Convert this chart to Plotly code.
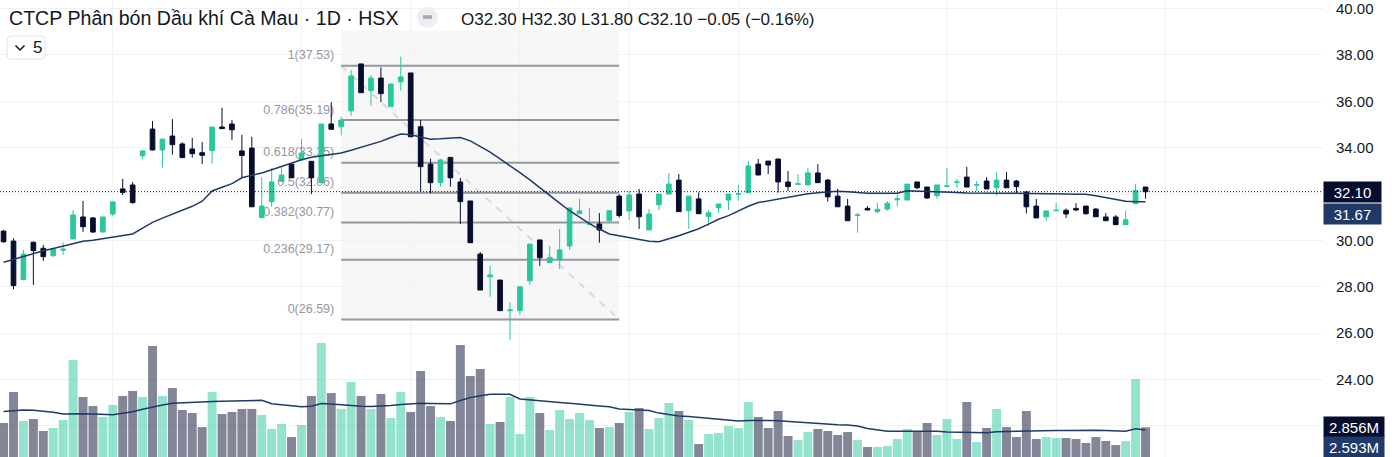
import plotly.graph_objects as go

# ---------------- data ----------------
open_ = [30.40, 29.97, 28.31, 29.92, 29.66, 29.34, 29.58, 30.06, 31.01, 30.97,
         30.36, 31.14, 32.22, 32.39, 33.65, 34.80, 33.90, 34.50, 34.16, 33.94,
         33.78, 33.87, 34.89, 35.02, 33.86, 33.98, 30.98, 31.67, 32.55, 33.29,
         33.47, 33.41, 32.49, 35.02, 34.90, 35.59, 37.61, 36.46, 37.00, 35.77,
         36.84, 37.22, 34.90, 33.29, 32.49, 33.58, 32.52, 31.70, 29.41, 28.43,
         28.29, 26.97, 26.97, 28.26, 30.02, 29.04, 29.16, 29.76, 31.15, 30.70,
         30.71, 30.85, 31.91, 31.27, 32.00, 30.45, 31.54, 32.00, 32.60, 31.28,
         31.79, 31.02, 31.41, 31.74, 31.99, 32.06, 33.29, 33.42, 33.51, 32.52,
         32.42, 32.39, 32.91, 32.60, 31.91, 31.48, 31.08, 31.38, 31.24, 31.35,
         31.75, 31.74, 32.52, 32.30, 31.93, 32.33, 32.50, 32.73, 32.38, 32.56,
         32.27, 32.60, 32.56, 32.09, 31.48, 31.02, 31.28, 31.30, 31.38, 31.48,
         31.35, 31.01, 31.01, 30.68, 31.58, 32.30]
high = [30.45, 30.09, 29.59, 29.95, 29.80, 29.63, 29.92, 31.31, 31.70, 31.01,
        31.01, 31.70, 32.65, 32.52, 33.86, 35.15, 34.37, 35.23, 34.23, 34.42,
        34.24, 34.89, 35.72, 35.19, 34.55, 34.47, 32.72, 33.12, 33.15, 33.29,
        34.37, 33.41, 35.02, 35.96, 35.33, 37.35, 37.61, 37.13, 37.46, 36.78,
        37.92, 37.22, 35.19, 33.52, 33.52, 33.58, 32.69, 31.70, 29.50, 28.90,
        28.29, 27.34, 28.00, 29.84, 30.02, 29.76, 30.49, 31.40, 31.79, 31.40,
        31.18, 31.30, 31.99, 32.13, 32.22, 31.35, 32.00, 32.91, 32.86, 31.91,
        32.07, 31.31, 31.57, 32.00, 32.39, 33.42, 33.51, 33.42, 33.51, 32.99,
        32.86, 33.12, 33.29, 32.65, 32.22, 31.79, 31.19, 31.48, 31.63, 31.70,
        31.96, 32.43, 32.52, 32.30, 32.39, 33.12, 32.65, 33.17, 32.56, 32.73,
        32.95, 32.95, 32.60, 32.12, 31.79, 31.27, 31.61, 31.38, 31.61, 31.48,
        31.40, 31.18, 31.09, 31.28, 32.43, 32.30]
low = [29.90, 27.90, 28.28, 28.08, 29.12, 29.30, 29.38, 30.06, 30.37, 30.33,
       30.36, 31.05, 31.96, 31.58, 33.51, 33.88, 33.14, 33.70, 33.57, 33.57,
       33.29, 33.31, 34.80, 34.33, 32.68, 31.45, 30.98, 31.45, 32.55, 32.70,
       33.45, 32.00, 32.49, 34.79, 34.53, 35.38, 36.37, 35.81, 35.96, 35.77,
       36.46, 34.47, 32.09, 32.03, 32.32, 32.32, 30.71, 29.90, 27.86, 27.57,
       26.97, 25.71, 26.78, 28.08, 28.90, 29.04, 28.77, 29.59, 31.15, 30.69,
       29.90, 30.74, 30.98, 30.88, 30.49, 30.45, 31.31, 32.00, 31.24, 30.49,
       31.15, 30.63, 31.19, 31.31, 31.71, 32.06, 32.82, 32.86, 32.06, 32.13,
       32.42, 32.39, 32.49, 31.67, 31.45, 30.85, 30.33, 31.31, 31.17, 31.28,
       31.48, 31.74, 32.22, 31.79, 31.79, 32.33, 32.27, 32.30, 32.13, 32.22,
       31.93, 32.27, 32.00, 31.17, 30.97, 30.85, 31.28, 30.97, 31.28, 31.11,
       31.02, 30.85, 30.68, 30.68, 31.58, 31.80]
close = [29.94, 28.05, 29.41, 29.56, 29.30, 29.63, 29.62, 31.10, 30.59, 30.36,
         31.01, 31.66, 32.07, 31.63, 33.86, 33.90, 34.37, 34.13, 33.57, 33.74,
         33.67, 34.89, 34.82, 34.77, 33.66, 31.45, 31.48, 32.52, 32.82, 32.70,
         33.77, 32.70, 35.02, 34.79, 35.19, 37.09, 36.37, 37.00, 36.33, 36.74,
         37.05, 34.47, 33.18, 32.49, 33.47, 32.70, 31.67, 29.90, 27.86, 28.51,
         26.97, 27.00, 28.00, 29.84, 29.25, 29.25, 29.59, 31.40, 31.27, 30.71,
         30.45, 31.28, 31.07, 31.96, 31.02, 31.14, 32.00, 32.43, 31.24, 31.91,
         31.15, 31.19, 31.57, 32.00, 32.01, 33.21, 32.82, 33.25, 32.52, 32.32,
         32.44, 32.91, 32.49, 31.88, 31.45, 30.85, 31.10, 31.31, 31.34, 31.60,
         31.79, 32.43, 32.27, 31.83, 32.39, 32.35, 32.52, 32.30, 32.40, 32.22,
         32.60, 32.27, 32.32, 31.45, 30.97, 31.27, 31.30, 31.14, 31.31, 31.15,
         31.02, 30.85, 30.68, 30.89, 32.15, 32.10]
volume_m = [3.27, 6.25, 3.46, 3.65, 2.50, 2.79, 3.56, 9.33, 5.77, 4.90,
            3.85, 5.00, 5.87, 6.35, 5.77, 10.67, 5.87, 6.63, 4.52, 4.23,
            2.88, 6.25, 4.13, 4.33, 4.62, 4.62, 4.04, 2.69, 3.17, 1.92,
            3.08, 5.87, 10.96, 6.15, 4.62, 7.21, 5.87, 4.62, 6.06, 3.75,
            6.25, 4.33, 8.27, 4.90, 3.85, 3.46, 10.77, 7.79, 8.46, 3.17,
            3.37, 5.77, 2.21, 5.77, 4.23, 2.60, 4.52, 3.65, 4.23, 3.56,
            2.79, 2.88, 3.27, 4.33, 4.71, 2.69, 3.75, 5.19, 4.42, 3.56,
            1.25, 2.21, 2.31, 2.98, 2.79, 5.29, 3.85, 2.79, 4.42, 2.02,
            1.63, 2.40, 2.69, 2.50, 2.12, 2.40, 1.63, 0.96, 0.96, 1.06,
            1.73, 2.69, 2.50, 3.27, 2.12, 3.65, 1.73, 5.29, 1.44, 2.79,
            4.62, 2.88, 1.92, 4.42, 1.73, 1.92, 1.83, 1.83, 1.73, 1.35,
            1.92, 1.54, 1.15, 1.54, 7.50, 2.856]
ma20 = [29.06, 29.19, 29.32, 29.45, 29.55, 29.65, 29.76, 29.87, 29.96, 30.01,
        30.07, 30.15, 30.21, 30.28, 30.53, 30.78, 30.96, 31.13, 31.30, 31.47,
        31.69, 32.13, 32.29, 32.45, 32.70, 32.80, 32.91, 33.05, 33.20, 33.35,
        33.48, 33.59, 33.65, 33.71, 33.77, 33.89, 34.01, 34.14, 34.27, 34.44,
        34.59, 34.56, 34.46, 34.36, 34.38, 34.41, 34.44, 34.29, 34.06, 33.81,
        33.52, 33.23, 32.92, 32.61, 32.29, 31.94, 31.61, 31.28, 30.99, 30.72,
        30.49, 30.28, 30.20, 30.12, 30.03, 29.96, 29.94, 30.06, 30.20, 30.35,
        30.50, 30.70, 30.91, 31.07, 31.28, 31.47, 31.63, 31.71, 31.79, 31.87,
        31.94, 32.01, 32.05, 32.09, 32.12, 32.10, 32.05, 32.03, 32.03, 32.03,
        32.03, 32.14, 32.13, 32.12, 32.10, 32.09, 32.07, 32.04, 32.03, 32.03,
        32.03, 32.03, 32.03, 32.03, 32.02, 32.01, 32.00, 32.00, 31.99, 31.99,
        31.93, 31.85, 31.76, 31.69, 31.67, 31.67]
vol_ma20 = [4.38, 4.46, 4.51, 4.49, 4.41, 4.30, 4.13, 4.18, 4.17, 4.13,
            4.10, 4.07, 4.21, 4.36, 4.60, 4.82, 4.99, 5.16, 5.22, 5.29,
            5.31, 5.34, 5.36, 5.38, 5.42, 5.47, 5.45, 5.13, 5.01, 4.91,
            4.84, 4.89, 5.15, 5.10, 5.02, 4.92, 4.88, 4.86, 4.88, 4.95,
            5.04, 5.13, 5.18, 5.15, 5.13, 5.11, 5.44, 5.71, 5.89, 6.03,
            6.03, 6.03, 5.58, 5.48, 5.38, 5.32, 5.24, 5.16, 5.10, 5.01,
            4.91, 4.84, 4.61, 4.57, 4.54, 4.47, 4.22, 4.05, 3.94, 3.89,
            3.80, 3.67, 3.62, 3.55, 3.47, 3.52, 3.54, 3.52, 3.48, 3.41,
            3.36, 3.30, 3.25, 3.17, 3.10, 3.08, 2.97, 2.75, 2.61, 2.47,
            2.48, 2.49, 2.50, 2.49, 2.47, 2.41, 2.38, 2.42, 2.36, 2.32,
            2.43, 2.46, 2.49, 2.51, 2.51, 2.52, 2.54, 2.56, 2.58, 2.60,
            2.57, 2.54, 2.47, 2.47, 2.72, 2.593]

price_ticks = [22, 24, 26, 28, 30, 32, 34, 36, 38, 40]
grid_x = [11, 30, 41, 52, 63, 74, 95, 106, 117]
fib_ratios = ["1", "0.786", "0.618", "0.5", "0.382", "0.236", "0"]
fib_prices = [37.53, 35.19, 33.35, 32.06, 30.77, 29.17, 26.59]
fib_start, fib_end = 34, 62
fib_box_top = 39.05
title_text = "CTCP Phân bón Dầu khí Cà Mau · 1D · HSX"
ohlc_text = "O32.30 H32.30 L31.80 C32.10 −0.05 (−0.16%)"
indicator_count = "5"
last_price = 32.10
last_ma = 31.67
last_vol = 2.856
last_vol_ma = 2.593

# ---------------- styling ----------------
W, H = 1395, 457
PLOT_W = 1323
UP = "#2ac79d"
DOWN = "#070d2d"
NAVY = "#1f3a68"
GRID = "#f0f2f5"
FIB = "#9598a1"
FONT = "Liberation Sans, Arial, sans-serif"
TXT = "#131722"
NB = "\u00a0"

idx = list(range(len(close)))


def px_x(p):
    return p / PLOT_W


def px_y(p):
    return 1 - p / H


vol_colors = ["rgba(42,199,157,0.5)" if c >= o else "rgba(7,13,45,0.5)"
              for o, c in zip(open_, close)]

fig = go.Figure()
fig.add_trace(go.Bar(x=idx, y=volume_m, yaxis="y2", width=0.9,
                     marker=dict(color=vol_colors, line=dict(width=0)),
                     showlegend=False, hoverinfo="skip"))
fig.add_trace(go.Candlestick(
    x=idx, open=open_, high=high, low=low, close=close,
    increasing=dict(line=dict(color=UP, width=1), fillcolor=UP),
    decreasing=dict(line=dict(color=DOWN, width=1), fillcolor=DOWN),
    whiskerwidth=0, showlegend=False, hoverinfo="skip"))
fig.add_trace(go.Scatter(x=idx, y=ma20, mode="lines",
                         line=dict(color=NAVY, width=1.5),
                         showlegend=False, hoverinfo="skip"))
fig.add_trace(go.Scatter(x=idx, y=vol_ma20, yaxis="y2", mode="lines",
                         line=dict(color=NAVY, width=1.5),
                         showlegend=False, hoverinfo="skip"))

shapes = []
# fib background
shapes.append(dict(type="rect", xref="x", yref="y", x0=fib_start, x1=fib_end,
                   y0=fib_prices[-1], y1=fib_box_top, fillcolor="#f7f7f8",
                   line=dict(width=0), layer="below"))
# fib diagonal
shapes.append(dict(type="line", xref="x", yref="y", x0=fib_start, x1=fib_end,
                   y0=fib_prices[0], y1=fib_prices[-1],
                   line=dict(color="#d6d9e0", width=2, dash="7px,7px"),
                   layer="between"))
for r, p in zip(fib_ratios, fib_prices):
    shapes.append(dict(type="line", xref="x", yref="y", x0=fib_start, x1=fib_end,
                       y0=p, y1=p, line=dict(color=FIB, width=2), layer="between",
                       label=dict(text=f"{r}({p:.2f})" + NB * 2, textposition="start",
                                  xanchor="right", yanchor="bottom", padding=5,
                                  font=dict(family=FONT, size=12.5, color=FIB))))
# last price dotted line
shapes.append(dict(type="line", xref="paper", yref="y", x0=0, x1=1,
                   y0=last_price, y1=last_price,
                   line=dict(color=TXT, width=1, dash="1px,2px"), layer="above"))
# indicator toggle box
bx0, bx1, by0, by1, rr = 7, 45, 36, 59, 4
path = (f"M {px_x(bx0 + rr)},{px_y(by0)} L {px_x(bx1 - rr)},{px_y(by0)} "
        f"Q {px_x(bx1)},{px_y(by0)} {px_x(bx1)},{px_y(by0 + rr)} "
        f"L {px_x(bx1)},{px_y(by1 - rr)} Q {px_x(bx1)},{px_y(by1)} {px_x(bx1 - rr)},{px_y(by1)} "
        f"L {px_x(bx0 + rr)},{px_y(by1)} Q {px_x(bx0)},{px_y(by1)} {px_x(bx0)},{px_y(by1 - rr)} "
        f"L {px_x(bx0)},{px_y(by0 + rr)} Q {px_x(bx0)},{px_y(by0)} {px_x(bx0 + rr)},{px_y(by0)} Z")
shapes.append(dict(type="path", xref="paper", yref="paper", path=path,
                   fillcolor="white", line=dict(color="#e0e3eb", width=1), layer="above"))
shapes.append(dict(type="path", xref="paper", yref="paper",
                   path=f"M {px_x(15.5)},{px_y(45.5)} L {px_x(20)},{px_y(50)} L {px_x(24.5)},{px_y(45.5)}",
                   line=dict(color=TXT, width=1.5), layer="above"))
# grey round button
shapes.append(dict(type="circle", xref="paper", yref="paper",
                   x0=px_x(417), x1=px_x(438), y0=px_y(28), y1=px_y(7),
                   fillcolor="#eceef1", line=dict(width=0), layer="above"))
shapes.append(dict(type="line", xref="paper", yref="paper",
                   x0=px_x(423), x1=px_x(432), y0=px_y(17), y1=px_y(17),
                   line=dict(color="#a3a6af", width=3.5), layer="above"))

annotations = [
    dict(xref="paper", yref="paper", x=px_x(7), y=px_y(18), xanchor="left",
         yanchor="middle", text=title_text, showarrow=False,
         font=dict(family=FONT, size=19.6, color=TXT)),
    dict(xref="paper", yref="paper", x=px_x(459), y=px_y(19), xanchor="left",
         yanchor="middle", text=ohlc_text, showarrow=False,
         font=dict(family=FONT, size=17, color=TXT)),
    dict(xref="paper", yref="paper", x=px_x(31), y=px_y(47.5), xanchor="left",
         yanchor="middle", text=indicator_count, showarrow=False,
         font=dict(family=FONT, size=17, color=TXT)),
    dict(xref="paper", x=1, xanchor="left", yref="y", y=last_price,
         text=f"{last_price:.2f}", showarrow=False, bgcolor=DOWN, width=57,
         height=20, borderpad=0, align="center",
         font=dict(family=FONT, size=15, color="white")),
    dict(xref="paper", x=1, xanchor="left", yref="y", y=last_ma, yshift=-12,
         text=f"{last_ma:.2f}", showarrow=False, bgcolor=NAVY, width=57,
         height=20, borderpad=0, align="center",
         font=dict(family=FONT, size=15, color="white")),
    dict(xref="paper", x=1, xanchor="left", yref="y2", y=last_vol,
         text=f"{last_vol:.3f}M", showarrow=False, bgcolor=DOWN, width=60,
         height=20, borderpad=0, align="center",
         font=dict(family=FONT, size=15, color="white")),
    dict(xref="paper", x=1, xanchor="left", yref="y2", y=last_vol_ma, yshift=-17,
         text=f"{last_vol_ma:.3f}M", showarrow=False, bgcolor=NAVY, width=60,
         height=20, borderpad=0, align="center",
         font=dict(family=FONT, size=15, color="white")),
]

x_lo = -3.57 / 9.93
x_hi = (PLOT_W - 3.57) / 9.93
y_lo = 40 - (H - 8.5) / 23.19
y_hi = 40 + 8.5 / 23.19
v_hi = H / 10.4

fig.update_layout(
    width=W, height=H, margin=dict(l=0, r=W - PLOT_W, t=0, b=0),
    paper_bgcolor="white", plot_bgcolor="white", showlegend=False,
    hovermode=False, dragmode=False, boxgap=0.33,
    font=dict(family=FONT, color=TXT),
    xaxis=dict(range=[x_lo, x_hi], tickvals=grid_x, showticklabels=False,
               showgrid=True, gridcolor=GRID, gridwidth=1, zeroline=False,
               showline=False, ticks="", rangeslider=dict(visible=False)),
    yaxis=dict(range=[y_lo, y_hi], side="right", tickvals=price_ticks,
               ticktext=["" if t == 22 else f"{t:.2f}" for t in price_ticks],
               showgrid=True, gridcolor=GRID, gridwidth=1, zeroline=False,
               showline=False, ticks="", ticklabelstandoff=12,
               ticklabeloverflow="allow",
               tickfont=dict(family=FONT, size=15, color=TXT)),
    yaxis2=dict(range=[0, v_hi], overlaying="y", visible=False),
    shapes=shapes, annotations=annotations,
)

fig.write_html("out.html")
